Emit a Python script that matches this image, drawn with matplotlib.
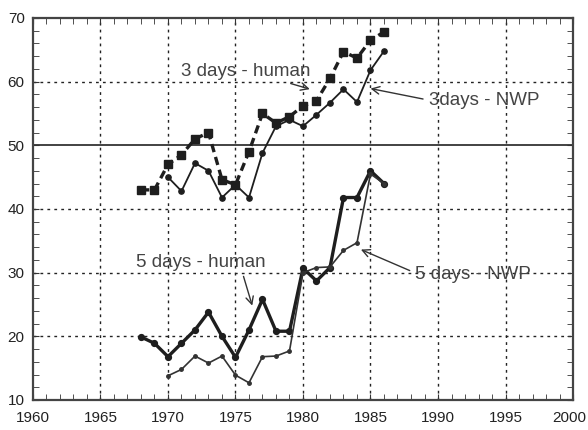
import matplotlib
matplotlib.use("Agg")
import matplotlib.pyplot as plt
from matplotlib.ticker import MultipleLocator
from matplotlib.transforms import ScaledTranslation

years_3 = [1968, 1969, 1970, 1971, 1972, 1973, 1974, 1975, 1976, 1977, 1978,
           1979, 1980, 1981, 1982, 1983, 1984, 1985, 1986]
human_3 = [43, 43, 47, 48.5, 51, 52, 44.6, 43.8, 49, 55, 53.5, 54.5, 56.2,
           57, 60.5, 64.7, 63.7, 66.5, 67.8]
years_3n = [1970, 1971, 1972, 1973, 1974, 1975, 1976, 1977, 1978, 1979, 1980,
            1981, 1982, 1983, 1984, 1985, 1986]
nwp_3 = [45, 42.8, 47.2, 46, 41.8, 43.8, 41.8, 48.8, 53, 54, 53, 54.8, 56.7,
         58.8, 56.8, 61.8, 64.8]
years_5 = [1968, 1969, 1970, 1971, 1972, 1973, 1974, 1975, 1976, 1977, 1978,
           1979, 1980, 1981, 1982, 1983, 1984, 1985, 1986]
human_5 = [19.9, 18.9, 16.8, 18.9, 21, 23.8, 20, 16.7, 21, 25.8, 20.8, 20.8,
           30.7, 28.7, 30.8, 41.8, 41.8, 46, 44]
years_5n = [1970, 1971, 1972, 1973, 1974, 1975, 1976, 1977, 1978, 1979, 1980,
            1981, 1982, 1983, 1984, 1985, 1986]
nwp_5 = [13.8, 14.8, 16.9, 15.8, 16.9, 13.9, 12.7, 16.8, 16.9, 17.7, 30,
         30.8, 30.9, 33.5, 34.7, 45.5, 44]

x_ticks = [1960, 1965, 1970, 1975, 1980, 1985, 1990, 1995, 2000]
y_ticks = [10, 20, 30, 40, 50, 60, 70]

lab_font = ['Liberation Sans Narrow', 'Liberation Sans', 'DejaVu Sans']
txt_font = ['Liberation Sans', 'DejaVu Sans']
col = '#1e1e1e'

fig = plt.figure(figsize=(5.88, 4.30), dpi=100)
ax = fig.add_axes([0.0561, 0.0698, 0.9184, 0.8884])
ax.set_xlim(1960, 2000)
ax.set_ylim(10, 70)

for xv in x_ticks[1:-1]:
    ax.axvline(xv, color='#222222', lw=1.0, ls=(0, (2, 3)), zorder=1)
for yv in [20, 30, 40, 60]:
    ax.axhline(yv, color='#222222', lw=1.0, ls=(0, (2, 3)), zorder=1)
ax.axhline(50, color='#222222', lw=1.2, zorder=1)

ax.plot(years_3, human_3, color=col, lw=2.4, ls=(0, (2.5, 1.5)), marker='s',
        ms=5.5, zorder=3)
ax.plot(years_3n, nwp_3, color=col, lw=1.3, marker='o', ms=3.8, zorder=3)
ax.plot(years_5, human_5, color=col, lw=2.4, marker='o', ms=4.2, zorder=3)
ax.plot(years_5n, nwp_5, color='#333333', lw=1.2, marker='o', ms=2.5, zorder=3)

ax.set_xticks(x_ticks)
ax.set_yticks(y_ticks)
ax.xaxis.set_minor_locator(MultipleLocator(1))
ax.yaxis.set_minor_locator(MultipleLocator(2))
ax.tick_params(which='both', direction='in', top=True, right=True,
               color='#333333')
ax.tick_params(which='major', length=4, labelsize=11)
ax.tick_params(axis='x', which='major', pad=8)
ax.tick_params(axis='y', which='major', pad=6)
ax.tick_params(which='minor', length=4)
for lab in ax.get_xticklabels() + ax.get_yticklabels():
    lab.set_family(lab_font)
    lab.set_color('#222222')
last = ax.get_xticklabels()[-1]
last.set_transform(last.get_transform() +
                   ScaledTranslation(-3 / 72, 0, fig.dpi_scale_trans))
for s in ax.spines.values():
    s.set_color('#444444')
    s.set_linewidth(1.6)

akw = dict(arrowstyle='->', color='#333333', lw=1.0)
ax.annotate('3 days - human', xy=(1980.7, 58.7), xytext=(1971.0, 61.6),
            fontsize=13.5, family=txt_font, color='#444444', va='center',
            arrowprops=dict(**akw, relpos=(0.75, 0.0)))
ax.annotate('3days - NWP', xy=(1984.8, 59.0), xytext=(1989.3, 57.1),
            fontsize=13.5, family=txt_font, color='#444444', va='center',
            arrowprops=dict(**akw, relpos=(0.0, 0.5)))
ax.annotate('5 days - human', xy=(1976.3, 24.4), xytext=(1967.6, 31.6),
            fontsize=13.5, family=txt_font, color='#444444', va='center',
            arrowprops=dict(**akw, relpos=(0.82, 0.0)))
ax.annotate('5 days - NWP', xy=(1984.1, 33.8), xytext=(1988.3, 29.7),
            fontsize=13.5, family=txt_font, color='#444444', va='center',
            arrowprops=dict(**akw, relpos=(0.0, 0.6)))

fig.savefig('out.png', dpi=100)
